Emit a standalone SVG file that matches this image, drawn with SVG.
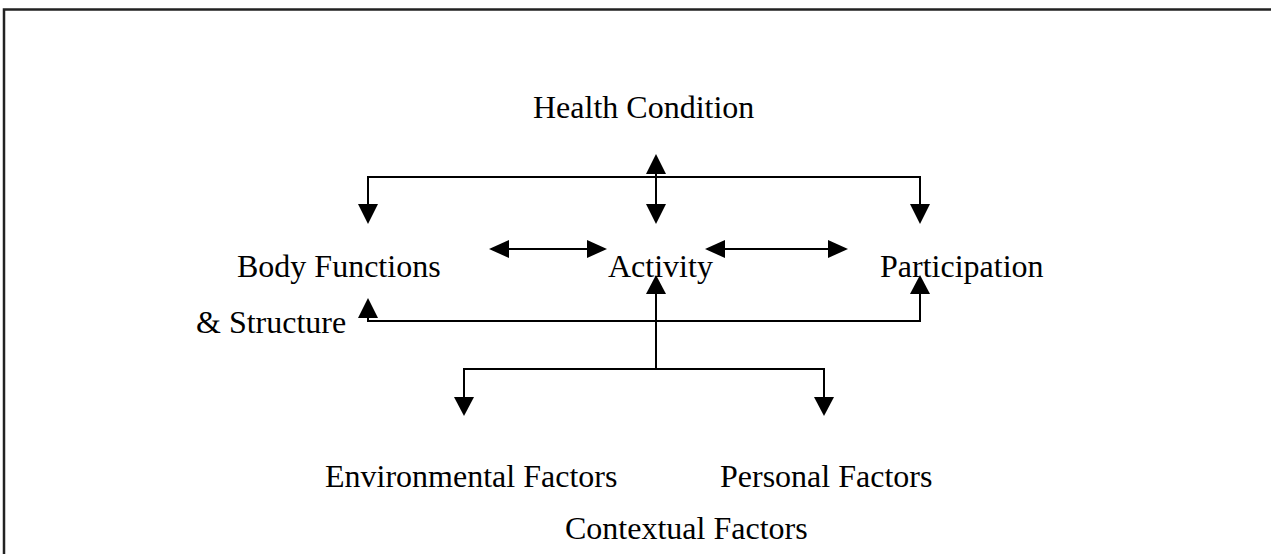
<svg xmlns="http://www.w3.org/2000/svg" width="1271" height="554" viewBox="0 0 1271 554">
<style>
text{font-family:"Liberation Serif","Times New Roman",serif;font-size:32px;fill:#000}
.ln{stroke:#000;stroke-width:2;fill:none}
.hd{fill:#000}
</style>
<rect x="0" y="0" width="1271" height="554" fill="#fff"/>
<path d="M4,560 V9.5 H1280" fill="none" stroke="#222" stroke-width="2.5"/>
<g id="connectors">
<path class="ln" d="M368,222 V177 H920 V222"/>
<path class="ln" d="M656,156 V222"/>
<path class="ln" d="M491,249 H605"/>
<path class="ln" d="M707,249 H846"/>
<path class="ln" d="M368,300 V321 H920 V277"/>
<path class="ln" d="M656,277 V369"/>
<path class="ln" d="M464,414 V369 H824 V414"/>
<polygon class="hd" points="358,204 378,204 368,224"/>
<polygon class="hd" points="646,204 666,204 656,224"/>
<polygon class="hd" points="910,204 930,204 920,224"/>
<polygon class="hd" points="646,174 666,174 656,154"/>
<polygon class="hd" points="509,240 509,258 489,249"/>
<polygon class="hd" points="587,240 587,258 607,249"/>
<polygon class="hd" points="725,240 725,258 705,249"/>
<polygon class="hd" points="828,240 828,258 848,249"/>
<polygon class="hd" points="358,318 378,318 368,298"/>
<polygon class="hd" points="646,294 666,294 656,275"/>
<polygon class="hd" points="910,294 930,294 920,275"/>
<polygon class="hd" points="454,397 474,397 464,416"/>
<polygon class="hd" points="814,397 834,397 824,416"/>
</g>
<g id="health"><text x="533" y="118">Health Condition</text></g>
<g id="body"><text x="237" y="277">Body Functions</text><text x="196" y="333">&amp; Structure</text></g>
<g id="activity"><text x="608" y="277">Activity</text></g>
<g id="participation"><text x="880" y="277">Participation</text></g>
<g id="environmental"><text x="325" y="487">Environmental Factors</text></g>
<g id="personal"><text x="720" y="487">Personal Factors</text></g>
<g id="contextual"><text x="565" y="539">Contextual Factors</text></g>
</svg>
